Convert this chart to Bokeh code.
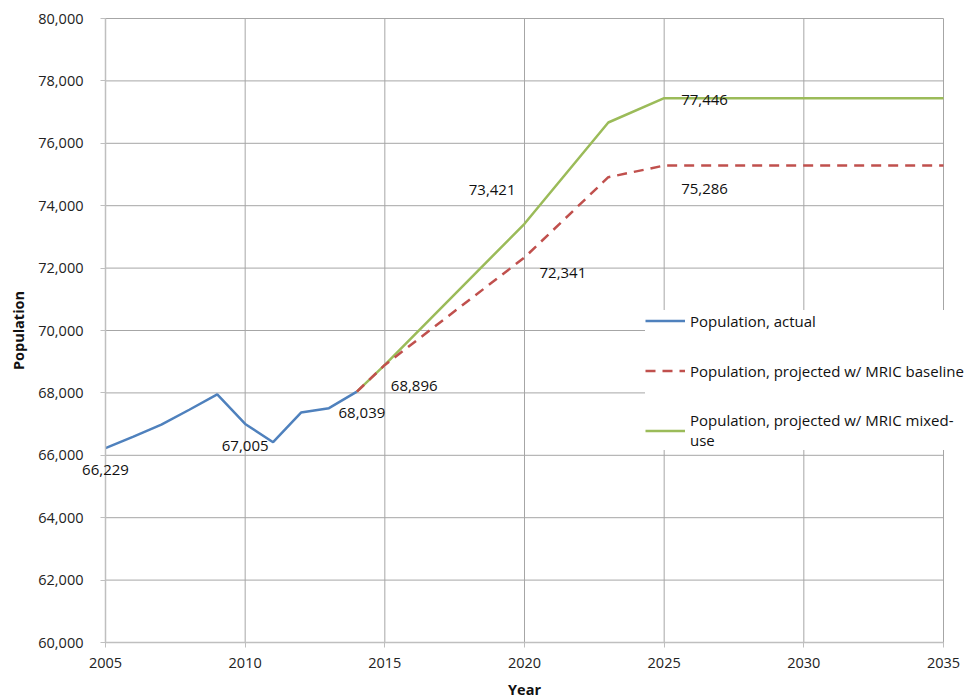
import math
from bokeh.plotting import figure
from bokeh.models import (Legend, LegendItem, FixedTicker, NumeralTickFormatter,
                          ColumnDataSource, LabelSet, Label)
from bokeh.core.properties import value
from bokeh.embed import file_html
from bokeh.resources import INLINE

# ---- data ----
actual_years = [2005, 2006, 2007, 2008, 2009, 2010, 2011, 2012, 2013, 2014]
actual_pop = [66229, 66600, 66980, 67460, 67950, 67005, 66420, 67370, 67510, 68039]

baseline_years = [2014, 2015, 2020, 2023, 2025, 2035]
baseline_pop = [68039, 68896, 72341, 74913, 75286, 75286]

mixed_years = [2014, 2015, 2020, 2023, 2025, 2035]
mixed_pop = [68039, 68896, 73421, 76667, 77446, 77446]

label_years = [2005, 2010, 2014, 2015, 2020, 2020, 2025, 2025]
label_pop = [66229, 67005, 68039, 68896, 73421, 72341, 77446, 75286]
label_text = ["66,229", "67,005", "68,039", "68,896", "73,421", "72,341", "77,446", "75,286"]

x_ticks = [2005, 2010, 2015, 2020, 2025, 2030, 2035]
y_ticks = list(range(60000, 80001, 2000))

# ---- label styling (not data) ----
label_align = ["center", "center", "center", "left", "right", "left", "left", "left"]
label_dx = [0, 0, 5, 6, -9, 15, 17, 17]
label_dy = [-22, -22, -21, -21, 34, -16, -2, -23]

FONT = "Open Sans"
W, H = 970, 698
# screen placement of the plotting area (px)
AX_LEFT, AX_RIGHT, AX_TOP, AX_BOTTOM = 105, 943, 18, 642
PX_X = (AX_RIGHT - AX_LEFT) / (x_ticks[-1] - x_ticks[0])
PX_Y = (AX_BOTTOM - AX_TOP) / (y_ticks[-1] - y_ticks[0])
x_start = x_ticks[0] - AX_LEFT / PX_X
x_end = x_ticks[-1] + (W - AX_RIGHT) / PX_X
y_start = y_ticks[0] - (H - AX_BOTTOM) / PX_Y
y_end = y_ticks[-1] + AX_TOP / PX_Y

p = figure(width=W, height=H, output_backend="svg", toolbar_location=None,
           x_range=(x_start, x_end), y_range=(y_start, y_end),
           min_border=0)
p.outline_line_color = None
p.background_fill_color = "white"
p.border_fill_color = "white"
p.xgrid.grid_line_color = None
p.ygrid.grid_line_color = None

grid_col = "#a6a6a6"
ny, nx = len(y_ticks), len(x_ticks)
p.segment(x0=[x_ticks[0]] * ny, x1=[x_ticks[-1]] * ny, y0=y_ticks, y1=y_ticks,
          line_color=grid_col, line_width=1)
p.segment(x0=x_ticks, x1=x_ticks, y0=[y_ticks[0]] * nx, y1=[y_ticks[-1]] * nx,
          line_color=grid_col, line_width=1)

p.xaxis.ticker = FixedTicker(ticks=x_ticks)
p.xaxis.bounds = (x_ticks[0], x_ticks[-1])
p.xaxis.fixed_location = y_ticks[0]
p.yaxis.ticker = FixedTicker(ticks=y_ticks)
p.yaxis.bounds = (y_ticks[0], y_ticks[-1])
p.yaxis.formatter = NumeralTickFormatter(format="0,0")
p.yaxis.fixed_location = x_ticks[0]

for ax in (p.xaxis, p.yaxis):
    ax.axis_line_color = "#bfbfbf"
    ax.axis_line_width = 1.5
    ax.major_tick_line_color = "#bfbfbf"
    ax.major_tick_out = 5
    ax.major_tick_in = 0
    ax.minor_tick_line_color = None
    ax.major_label_text_font = FONT
    ax.major_label_text_font_size = "14.5px"
    ax.major_label_text_color = "#222222"
p.yaxis.major_label_standoff = 17
p.xaxis.major_label_standoff = 10

# axis titles
title_style = dict(text_font=FONT, text_font_size="14.5px", text_font_style="bold",
                   text_color="#111111", text_align="center", text_baseline="middle")
p.add_layout(Label(x=(x_ticks[0] + x_ticks[-1]) / 2, y=y_ticks[0], y_offset=-47,
                   text="Year", **title_style))
p.add_layout(Label(x=x_ticks[0], y=(y_ticks[0] + y_ticks[-1]) / 2, x_offset=-87,
                   angle=math.pi / 2, text="Population", **title_style))

r_actual = p.line(actual_years, actual_pop, line_color="#4F81BD", line_width=2.5)
r_mixed = p.line(mixed_years, mixed_pop, line_color="#9BBB59", line_width=2.5)
r_base = p.line(baseline_years, baseline_pop, line_color="#C0504D", line_width=2.5,
                line_dash="10 7")

src = ColumnDataSource(dict(x=label_years, y=label_pop, t=label_text,
                            align=label_align, dx=label_dx, dy=label_dy))
labels = LabelSet(x="x", y="y", text="t", source=src, text_align="align",
                  x_offset="dx", y_offset="dy", text_baseline="middle",
                  text_font=value(FONT), text_font_size=value("15px"),
                  text_color=value("#111111"))
p.add_layout(labels)

legend = Legend(items=[
    LegendItem(label="Population, actual", renderers=[r_actual]),
    LegendItem(label="Population, projected w/ MRIC baseline", renderers=[r_base]),
    LegendItem(label="Population, projected w/ MRIC mixed-\nuse", renderers=[r_mixed]),
], location=(645, 248))
legend.label_text_font = FONT
legend.label_text_font_size = "15px"
legend.label_text_color = "#111111"
legend.glyph_width = 40
legend.glyph_height = 21
legend.label_height = 21
legend.label_standoff = 5
legend.spacing = 29
legend.padding = 16
legend.margin = 0
legend.border_line_color = None
legend.background_fill_color = "white"
legend.background_fill_alpha = 1.0
p.add_layout(legend, "center")

open("out.html", "w").write(file_html(p, INLINE))
